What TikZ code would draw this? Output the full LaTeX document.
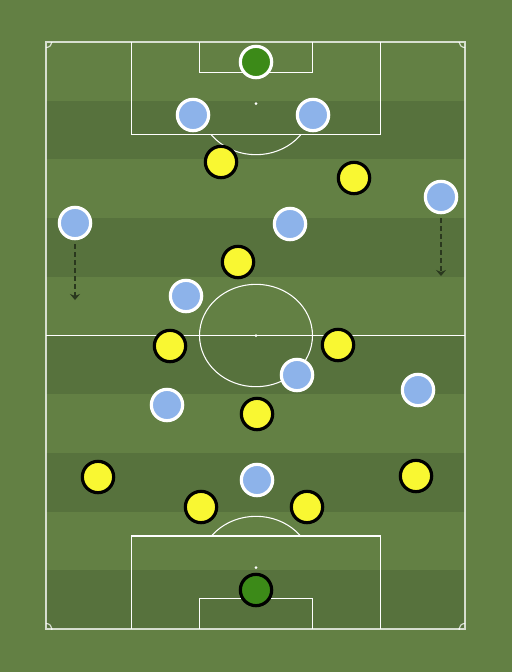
\documentclass[tikz,border=0pt]{standalone}
\usetikzlibrary{arrows.meta}
\definecolor{grasslight}{RGB}{99,128,68}
\definecolor{grassdark}{RGB}{87,114,61}
\definecolor{pblue}{RGB}{141,179,234}
\definecolor{pyellow}{RGB}{249,247,50}
\definecolor{pgreen}{RGB}{60,138,24}
\definecolor{arrowcol}{RGB}{42,56,30}
\begin{document}
\begin{tikzpicture}[x=0.75pt,y=-0.75pt,
  pitchline/.style={draw=white,line width=0.8pt},
  outerline/.style={draw=white,draw opacity=0.75,line width=0.9pt},
  player/.style={circle,minimum size=23.5pt,inner sep=0pt,line width=2.4pt},
  bluep/.style={player,fill=pblue,draw=white},
  yellowp/.style={player,fill=pyellow,draw=black},
  gkwhite/.style={player,fill=pgreen,draw=white},
  gkblack/.style={player,fill=pgreen,draw=black},
  run/.style={draw=arrowcol,line width=2pt,dash pattern=on 3.5pt off 2.5pt,-{Stealth[length=4.5pt,width=7.5pt]}}]
\useasboundingbox (0,0) rectangle (512,672);
\fill[grasslight] (0,0) rectangle (512,672);
% stripes
\foreach \i in {0,1,2,3,4} {
  \fill[grassdark] (46,{42+58.7*(2*\i+1)}) rectangle (465,{42+58.7*(2*\i+2)});
}
% outer lines
\draw[outerline] (46,42) rectangle (465,629);
\draw[pitchline] (46,335.5) -- (465,335.5);
% centre circle and spot
\draw[pitchline] (256,335.5) ellipse [x radius=56.5, y radius=51.2];
\fill[white] (256,335.5) circle [radius=1.5];
% top penalty area
\draw[pitchline] (131.5,42) -- (131.5,134.5) -- (380.5,134.5) -- (380.5,42);
\draw[pitchline] (199.5,42) -- (199.5,72.5) -- (312.5,72.5) -- (312.5,42);
\fill[white] (256,103.5) circle [radius=1.5];
\begin{scope}
  \clip (0,134.5) rectangle (512,300);
  \draw[pitchline] (256,103.5) ellipse [x radius=56.5, y radius=51.2];
\end{scope}
% bottom penalty area
\draw[pitchline] (131.5,629) -- (131.5,536) -- (380.5,536) -- (380.5,629);
\draw[pitchline] (199.5,629) -- (199.5,598.5) -- (312.5,598.5) -- (312.5,629);
\fill[white] (256,567.5) circle [radius=1.5];
\begin{scope}
  \clip (0,380) rectangle (512,536);
  \draw[pitchline] (256,567.5) ellipse [x radius=56.5, y radius=51.2];
\end{scope}
% corner arcs
\begin{scope}
  \clip (46,42) rectangle (465,629);
  \foreach \cx/\cy in {46/42,465/42,46/629,465/629} {
    \draw[outerline] (\cx,\cy) ellipse [x radius=6, y radius=5.5];
  }
\end{scope}
% blue team
\node[gkwhite] (bgk) at (256,62) {};
\node[bluep] (b1) at (193,115) {};
\node[bluep] (b2) at (313,115) {};
\node[bluep] (b3) at (75,223) {};
\node[bluep] (b4) at (290,224) {};
\node[bluep] (b5) at (441,197) {};
\node[bluep] (b6) at (186,296) {};
\node[bluep] (b7) at (297,375) {};
\node[bluep] (b8) at (418,390) {};
\node[bluep] (b9) at (167,405) {};
\node[bluep] (b10) at (257,480) {};
% yellow team
\node[gkblack] (ygk) at (256,590) {};
\node[yellowp] (y1) at (221,162) {};
\node[yellowp] (y2) at (354,178) {};
\node[yellowp] (y3) at (238,262) {};
\node[yellowp] (y4) at (170,346) {};
\node[yellowp] (y5) at (338,345) {};
\node[yellowp] (y6) at (257,414) {};
\node[yellowp] (y7) at (98,477) {};
\node[yellowp] (y8) at (416,476) {};
\node[yellowp] (y9) at (201,507) {};
\node[yellowp] (y10) at (307,507) {};
% runs
\coordinate (r3) at (75,300);
\coordinate (r5) at (441,276);
\draw[run] ([yshift=-3pt]b3.south) -- (r3);
\draw[run] ([yshift=-3pt]b5.south) -- (r5);
\end{tikzpicture}
\end{document}
